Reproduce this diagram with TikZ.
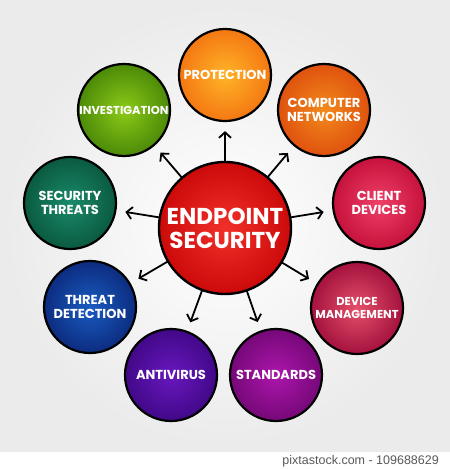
\documentclass[tikz,border=0pt]{standalone}
\usepackage{fontspec}
\newfontfamily\lab{Poppins}
\newfontfamily\foot{Liberation Sans}
\usetikzlibrary{arrows.meta}
\definecolor{cIn}{HTML}{F2302A}\definecolor{cOut}{HTML}{CC0A0A}
\definecolor{prIn}{HTML}{FFB428}\definecolor{prOut}{HTML}{F47812}
\definecolor{cnIn}{HTML}{F38A1C}\definecolor{cnOut}{HTML}{DF520E}
\definecolor{cdIn}{HTML}{EE4068}\definecolor{cdOut}{HTML}{C6123C}
\definecolor{dmIn}{HTML}{E4506A}\definecolor{dmOut}{HTML}{A4123E}
\definecolor{stIn}{HTML}{AC16AC}\definecolor{stOut}{HTML}{760878}
\definecolor{avIn}{HTML}{6818BE}\definecolor{avOut}{HTML}{420888}
\definecolor{tdIn}{HTML}{1A5CC0}\definecolor{tdOut}{HTML}{0C2C80}
\definecolor{shIn}{HTML}{1A8A6A}\definecolor{shOut}{HTML}{0A5A40}
\definecolor{ivIn}{HTML}{8CCA18}\definecolor{ivOut}{HTML}{4C8A08}
\tikzset{
  bub/.style 2 args={circle, draw=black, line width=2.2pt, minimum size=92pt,
    inner sep=0pt, inner color=#1, outer color=#2, text=white, align=center,
    font=\lab\bfseries\fontsize{13}{14.5}\selectfont},
  small/.style={font=\lab\bfseries\fontsize{11.5}{13}\selectfont},
  hub/.style={circle, draw=black, line width=2.4pt, minimum size=132pt,
    inner sep=0pt, inner color=cIn, outer color=cOut, text=white, align=center,
    font=\lab\bfseries\fontsize{23}{24}\selectfont},
  arr/.style={draw=black, line width=1.8pt,
    -{Straight Barb[length=5.5pt,width=12pt,line width=1.8pt]}, shorten >=9pt}
}
\begin{document}
\begin{tikzpicture}[x=1pt,y=-1pt]
\useasboundingbox (0,0) rectangle (450,469);
\fill[white] (0,0) rectangle (450,469);
\shade[inner color=white, outer color=black!8] (0,0) rectangle (450,451);
% outer bubbles
\node[bub={prIn}{prOut}] (prot) at (225,75) {PROTECTION};
\node[bub={cnIn}{cnOut}] (cnet) at (324,110) {COMPUTER\\NETWORKS};
\node[bub={cdIn}{cdOut}] (cdev) at (379,203) {CLIENT\\DEVICES};
\node[bub={dmIn}{dmOut}, small] (dman) at (357,308) {DEVICE\\MANAGEMENT};
\node[bub={stIn}{stOut}] (stan) at (276,375) {STANDARDS};
\node[bub={avIn}{avOut}] (anti) at (171,375) {ANTIVIRUS};
\node[bub={tdIn}{tdOut}] (tdet) at (90,307) {THREAT\\DETECTION};
\node[bub={shIn}{shOut}] (sthr) at (70,203) {SECURITY\\THREATS};
\node[bub={ivIn}{ivOut}, small] (inv) at (124,110) {INVESTIGATION};
% hub centre for arrows
\coordinate (hubc) at (225,228);
\foreach \t in {prot,cnet,cdev,dman,stan,anti,tdet,sthr,inv}
  \draw[arr] (hubc) -- (\t);
\node[hub] (hub) at (hubc) {ENDPOINT\\SECURITY};
% footer
\node[anchor=east, inner sep=0pt, text=black!65, font=\foot\fontsize{12.5}{14}\selectfont] (foot) at (439,461) {pixtastock.com - 109688629};
\end{tikzpicture}
\end{document}
